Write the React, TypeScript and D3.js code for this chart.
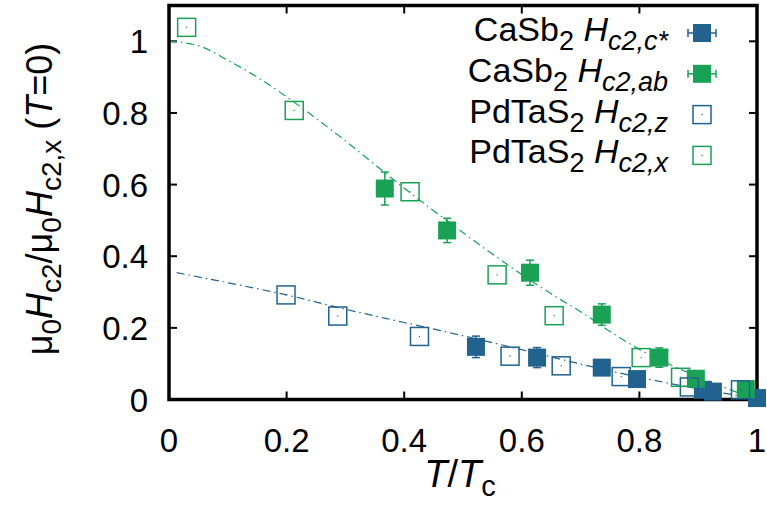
import React from 'react';
import * as d3 from 'd3';

const W = 767;
const H = 510;
const BLUE = '#21628f';
const GREEN = '#19a155';
const FONT = '"Liberation Sans", Arial, Helvetica, sans-serif';

// CaSb2, field along c*
const casbCT = [0.522, 0.626, 0.736, 0.796, 0.908, 0.925, 1.0];
const casbCH = [0.147, 0.117, 0.089, 0.057, 0.027, 0.022, 0.004];
const casbCErr = [0.03, 0.028, 0.005, 0.005, 0.004, 0.004, 0.003];

// CaSb2, field in the ab plane
const casbAbT = [0.367, 0.473, 0.614, 0.736, 0.834, 0.896, 0.981];
const casbAbH = [0.589, 0.472, 0.354, 0.237, 0.117, 0.058, 0.029];
const casbAbErr = [0.046, 0.034, 0.035, 0.03, 0.027, 0.006, 0.005];

// PdTaS2, field along z
const pdZT = [0.199, 0.287, 0.426, 0.58, 0.667, 0.769, 0.885, 0.972];
const pdZH = [0.292, 0.233, 0.176, 0.121, 0.094, 0.064, 0.035, 0.027];

// PdTaS2, field along x
const pdXT = [0.03, 0.213, 0.41, 0.558, 0.655, 0.803, 0.87];
const pdXH = [1.039, 0.807, 0.58, 0.348, 0.234, 0.117, 0.062];

// fitted curves
const fitXT = [0, 0.05, 0.1, 0.15, 0.2, 0.25, 0.3, 0.35, 0.4, 0.45, 0.5, 0.55, 0.6, 0.65, 0.7, 0.75, 0.8, 0.85, 0.9, 0.95, 1.0];
const fitXH = [1.0, 0.988, 0.947, 0.9, 0.845, 0.785, 0.722, 0.656, 0.59, 0.527, 0.466, 0.406, 0.349, 0.295, 0.245, 0.19, 0.14, 0.099, 0.063, 0.03, 0.0];
const fitZT = [0.013, 0.1, 0.2, 0.3, 0.4, 0.5, 0.6, 0.7, 0.8, 0.9, 1.0];
const fitZH = [0.354, 0.326, 0.292, 0.252, 0.215, 0.178, 0.139, 0.099, 0.062, 0.03, 0.003];

const tickValues = [0, 0.2, 0.4, 0.6, 0.8, 1];
const xTickLabels = ['0', '0.2', '0.4', '0.6', '0.8', '1'];
const yTickLabels = ['0', '0.2', '0.4', '0.6', '0.8', '1'];

const x = d3.scaleLinear().domain([0, 1]).range([169, 757]);
const y = d3.scaleLinear().domain([0, 1.1]).range([399.5, 5.5]);

const SQ = 18;
const DASH = '8,4,1.5,4';

function zip(a: number[], b: number[]): [number, number][] {
  return a.map((v, i) => [v, b[i]]);
}

const line = d3
  .line<[number, number]>()
  .x((d) => x(d[0]))
  .y((d) => y(d[1]))
  .curve(d3.curveMonotoneX);

function OpenSquare({ cx, cy, color }: { cx: number; cy: number; color: string }) {
  return (
    <g>
      <rect x={cx - SQ / 2} y={cy - SQ / 2} width={SQ} height={SQ} fill="none" stroke={color} strokeWidth={1.5} />
      <rect x={cx - 0.6} y={cy - 0.6} width={1.2} height={1.2} fill={color} />
    </g>
  );
}

function FilledSquare({ cx, cy, color, err }: { cx: number; cy: number; color: string; err: number }) {
  const top = cy - err;
  const bot = cy + err;
  return (
    <g>
      <line x1={cx} x2={cx} y1={top} y2={bot} stroke={color} strokeWidth={1.5} />
      <line x1={cx - 4} x2={cx + 4} y1={top} y2={top} stroke={color} strokeWidth={1.5} />
      <line x1={cx - 4} x2={cx + 4} y1={bot} y2={bot} stroke={color} strokeWidth={1.5} />
      <rect x={cx - SQ / 2} y={cy - SQ / 2} width={SQ} height={SQ} fill={color} />
    </g>
  );
}

const legendRows = [
  { base: 'CaSb', sub: 'c2,c*', filled: true, color: BLUE },
  { base: 'CaSb', sub: 'c2,ab', filled: true, color: GREEN },
  { base: 'PdTaS', sub: 'c2,z', filled: false, color: BLUE },
  { base: 'PdTaS', sub: 'c2,x', filled: false, color: GREEN },
];

export default function App() {
  return (
    <svg
      width={W}
      height={H}
      viewBox={`0 0 ${W} ${H}`}
      style={{ position: 'absolute', left: 0, top: 0, background: '#fff' }}
      fontFamily={FONT}
    >
      <rect width={W} height={H} fill="#fff" />

      {/* ticks (inward, mirrored on opposite borders) */}
      {tickValues.map((t) => (
        <g key={'xt' + t} stroke="#000" strokeWidth={2}>
          <line x1={x(t)} x2={x(t)} y1={y(0)} y2={y(0) - 8} />
          <line x1={x(t)} x2={x(t)} y1={y(1.1)} y2={y(1.1) + 8} />
        </g>
      ))}
      {tickValues.map((t) => (
        <g key={'yt' + t} stroke="#000" strokeWidth={2}>
          <line x1={x(0)} x2={x(0) + 8} y1={y(t)} y2={y(t)} />
          <line x1={x(1)} x2={x(1) - 8} y1={y(t)} y2={y(t)} />
        </g>
      ))}

      {/* tick labels */}
      {tickValues.map((t, i) => (
        <text key={'xl' + t} x={x(t)} y={452} fontSize={33} textAnchor="middle">
          {xTickLabels[i]}
        </text>
      ))}
      {tickValues.map((t, i) => (
        <text key={'yl' + t} x={148} y={y(t) + 12} fontSize={33} textAnchor="end">
          {yTickLabels[i]}
        </text>
      ))}

      {/* axis titles */}
      <text x={460} y={487} fontSize={38} textAnchor="middle">
        <tspan fontStyle="italic">T</tspan>
        <tspan>/</tspan>
        <tspan fontStyle="italic">T</tspan>
        <tspan fontSize={29} dy={9}>c</tspan>
      </text>
      <text transform="translate(52,199) rotate(-90)" fontSize={36} textAnchor="middle">
        <tspan>μ</tspan>
        <tspan fontSize={28} dy={9}>0</tspan>
        <tspan fontStyle="italic" dy={-9}>H</tspan>
        <tspan fontSize={28} dy={9}>c2</tspan>
        <tspan dy={-9}>/μ</tspan>
        <tspan fontSize={28} dy={9}>0</tspan>
        <tspan fontStyle="italic" dy={-9}>H</tspan>
        <tspan fontSize={28} dy={9}>c2,x</tspan>
        <tspan dy={-9}> (</tspan>
        <tspan fontStyle="italic">T</tspan>
        <tspan>=0)</tspan>
      </text>

      {/* fitted curves */}
      <path d={line(zip(fitXT, fitXH)) || ''} fill="none" stroke={GREEN} strokeWidth={1.2} strokeDasharray={DASH} />
      <path d={line(zip(fitZT, fitZH)) || ''} fill="none" stroke={BLUE} strokeWidth={1.2} strokeDasharray={DASH} />

      {/* border */}
      <rect x={x(0)} y={y(1.1)} width={x(1) - x(0)} height={y(0) - y(1.1)} fill="none" stroke="#000" strokeWidth={3.5} />

      {/* filled markers with error bars */}
      {casbCT.map((t, i) => (
        <FilledSquare key={'c' + i} cx={x(t)} cy={y(casbCH[i])} color={BLUE} err={y(0) - y(casbCErr[i])} />
      ))}
      {casbAbT.map((t, i) => (
        <FilledSquare key={'ab' + i} cx={x(t)} cy={y(casbAbH[i])} color={GREEN} err={y(0) - y(casbAbErr[i])} />
      ))}

      {/* open markers */}
      {pdZT.map((t, i) => (
        <OpenSquare key={'z' + i} cx={x(t)} cy={y(pdZH[i])} color={BLUE} />
      ))}
      {pdXT.map((t, i) => (
        <OpenSquare key={'x' + i} cx={x(t)} cy={y(pdXH[i])} color={GREEN} />
      ))}

      {/* legend */}
      {legendRows.map((r, i) => {
        const cy = 33 + i * 40.8;
        const base = cy + 8;
        return (
          <g key={'lg' + i}>
            <text x={668} y={base} fontSize={34} textAnchor="end">
              <tspan>{r.base}</tspan>
              <tspan fontSize={27} dy={9}>2</tspan>
              <tspan dy={-9}> </tspan>
              <tspan fontStyle="italic">H</tspan>
              <tspan fontStyle="italic" fontSize={27} dy={9}>{r.sub}</tspan>
            </text>
            {r.filled ? (
              <g stroke={r.color} strokeWidth={1.5}>
                <line x1={688} x2={716} y1={cy} y2={cy} />
                <line x1={688} x2={688} y1={cy - 4} y2={cy + 4} />
                <line x1={716} x2={716} y1={cy - 4} y2={cy + 4} />
                <rect x={702 - SQ / 2} y={cy - SQ / 2} width={SQ} height={SQ} fill={r.color} stroke="none" />
              </g>
            ) : (
              <OpenSquare cx={702} cy={cy} color={r.color} />
            )}
          </g>
        );
      })}
    </svg>
  );
}
